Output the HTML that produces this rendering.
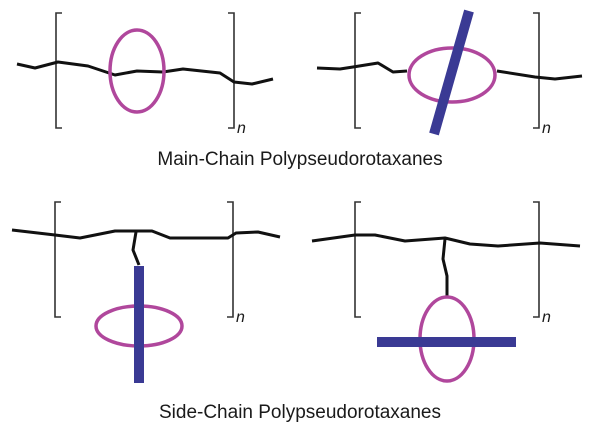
<!DOCTYPE html>
<html><head><style>
html,body{margin:0;padding:0;background:#fff;width:600px;height:436px;overflow:hidden}
svg{display:block}
text{font-family:"Liberation Sans",sans-serif;fill:#1a1a1a}
</style></head><body>
<svg width="600" height="436" viewBox="0 0 600 436" xmlns="http://www.w3.org/2000/svg">
<g fill="none" stroke="#333" stroke-width="1.6">
<path d="M62,13 H56 V128 H62"/><path d="M228,13 H234 V128 H228"/>
<path d="M361,13 H355 V128 H361"/><path d="M533,13 H539 V128 H533"/>
<path d="M61,202 H55 V317 H61"/><path d="M227,202 H233 V317 H227"/>
<path d="M361,202 H355 V317 H361"/><path d="M533,202 H539 V317 H533"/>
</g>
<g fill="none" stroke="#111" stroke-width="3" stroke-linejoin="round">
<path d="M17,64 L35,68 L58,62 L88,66 L115,75 L137,71 L163,72 L183,69 L220,73 L234,82 L252,84 L273,79"/>
<path d="M317,68 L340,69 L353,67 L378,63 L393,72 L407,71 M497,71 L535,77 L555,79 L582,76"/>
<path d="M12,230 L55,235 L80,238 L115,231 L152,231 L170,238 L228,238 L236,233 L258,232 L280,237"/>
<path d="M136,232 L133,250 L139,265"/>
<path d="M312,241 L355,235 L375,235 L405,241 L445,238 L470,244 L498,246 L540,243 L580,246"/>
<path d="M445,239 L443,259 L447,276 L447,296"/>
</g>
<g fill="none" stroke="#b0479c" stroke-width="3.5">
<ellipse cx="137" cy="71" rx="27" ry="41"/>
<ellipse cx="452" cy="75" rx="43" ry="27"/>
<ellipse cx="139" cy="326" rx="43" ry="20"/>
<ellipse cx="447" cy="339" rx="27" ry="42"/>
</g>
<g stroke="#3a3a94" stroke-width="10">
<line x1="469" y1="11" x2="434" y2="134"/>
<line x1="139" y1="266" x2="139" y2="383"/>
<line x1="377" y1="342" x2="516" y2="342"/>
</g>
<text x="237" y="133" font-size="16" font-style="italic">n</text>
<text x="542" y="133" font-size="16" font-style="italic">n</text>
<text x="236" y="322" font-size="16" font-style="italic">n</text>
<text x="542" y="322" font-size="16" font-style="italic">n</text>
<text x="300" y="165" font-size="19" text-anchor="middle">Main-Chain Polypseudorotaxanes</text>
<text x="300" y="418" font-size="19" text-anchor="middle">Side-Chain Polypseudorotaxanes</text>
</svg>
</body></html>
